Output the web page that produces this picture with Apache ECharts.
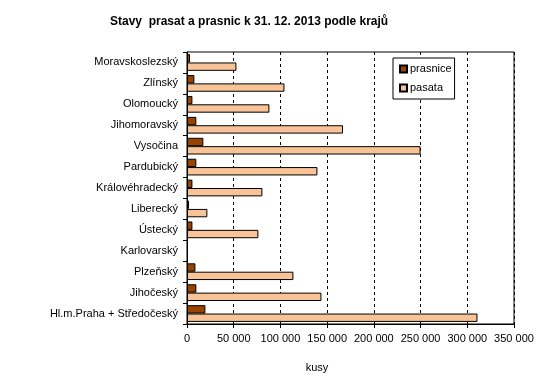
<!DOCTYPE html>
<html>
<head>
<meta charset="utf-8">
<script src="https://cdn.jsdelivr.net/npm/echarts@6/dist/echarts.min.js"></script>
<style>html,body{margin:0;padding:0;background:#fff;}#c{width:537px;height:389px;}</style>
</head>
<body>
<div id="c"></div>
<script>
var categories = ["Moravskoslezský","Zlínský","Olomoucký","Jihomoravský","Vysočina","Pardubický","Královéhradecký","Liberecký","Ústecký","Karlovarský","Plzeňský","Jihočeský","Hl.m.Praha + Středočeský"];
var prasnice = [3200, 7900, 5800, 10000, 17500, 10000, 5800, 2100, 5800, 0, 9000, 10000, 19700];
var pasata = [52900, 104300, 88200, 167000, 250000, 139600, 80700, 21800, 76400, 0, 113900, 143900, 310900];
var titleText = "Stavy  prasat a prasnic k 31. 12. 2013 podle krajů";
var axisName = "kusy";

var font = "Arial, 'Liberation Sans', sans-serif";
function toItems(arr) {
  return arr.map(function (v) {
    return v === 0 ? {value: v, itemStyle: {borderWidth: 0, opacity: 0}} : v;
  });
}
var chart = echarts.init(document.getElementById('c'), null, {renderer: 'canvas'});
chart.setOption({
  animation: false,
  backgroundColor: '#fff',
  title: {
    text: titleText,
    left: 105, top: 11,
    textStyle: {fontFamily: font, fontSize: 12, fontWeight: 'bold', color: '#000'}
  },
  legend: {
    orient: 'vertical',
    left: 393, top: 58,
    padding: [5, 3, 5, 6],
    itemWidth: 7, itemHeight: 7, itemGap: 7,
    icon: 'rect',
    backgroundColor: '#fff',
    borderColor: '#000', borderWidth: 1, borderRadius: 0,
    textStyle: {fontFamily: font, fontSize: 11, color: '#000', lineHeight: 12, padding: [0, 0, 0, -2]},
    data: ['prasnice', 'pasata']
  },
  grid: {
    left: 187, right: 23, top: 52, bottom: 65,
    show: true, borderColor: '#000', borderWidth: 1, backgroundColor: 'transparent',
    containLabel: false
  },
  xAxis: {
    type: 'value', min: 0, max: 350000, interval: 50000,
    name: axisName, nameLocation: 'middle', nameGap: 38,
    nameTextStyle: {fontFamily: font, fontSize: 11, color: '#000', padding: [0, 67, 0, 0]},
    axisLine: {show: true, lineStyle: {color: '#000', width: 1}},
    axisTick: {show: true, length: 4, lineStyle: {color: '#000'}},
    axisLabel: {
      margin: 9, fontFamily: font, fontSize: 11, color: '#000',
      formatter: function (v) { return String(v).replace(/\B(?=(\d{3})+(?!\d))/g, ' '); }
    },
    splitLine: {show: true, lineStyle: {color: '#000', type: [3, 3], width: 1}}
  },
  yAxis: {
    type: 'category', data: categories, inverse: true,
    axisLine: {show: true, lineStyle: {color: '#000', width: 1}},
    axisTick: {show: true, length: 4, lineStyle: {color: '#000'}},
    axisLabel: {margin: 9, fontFamily: font, fontSize: 11, color: '#000'},
    splitLine: {show: false}
  },
  series: [
    {name: 'prasnice', type: 'bar', data: toItems(prasnice), barGap: '0%', barCategoryGap: '20%',
     itemStyle: {color: '#9A4200', borderColor: '#000', borderWidth: 1}},
    {name: 'pasata', type: 'bar', data: toItems(pasata), barGap: '0%', barCategoryGap: '20%',
     itemStyle: {color: '#F8C497', borderColor: '#000', borderWidth: 1}}
  ]
});
</script>
</body>
</html>
